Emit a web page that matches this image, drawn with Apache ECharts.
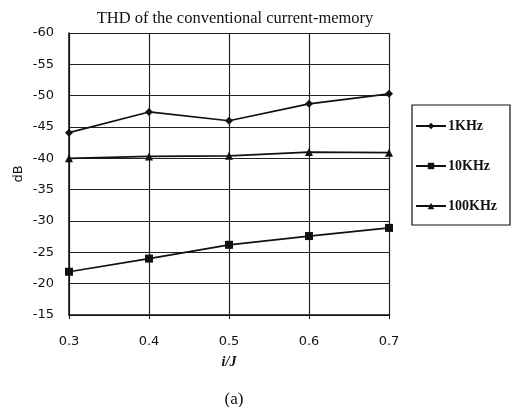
<!DOCTYPE html>
<html>
<head>
<meta charset="utf-8">
<script src="https://cdn.jsdelivr.net/npm/echarts@6/dist/echarts.min.js"></script>
<style>
  body { margin: 0; background: #fff; }
</style>
</head>
<body>
<div id="chart" style="width:516px;height:407px"></div>
<script>
// x categories (i/J)
let ratio = ["0.3", "0.4", "0.5", "0.6", "0.7"];
// THD in dB
let thd1k = [-44.1, -47.4, -46.0, -48.7, -50.3];
let thd10k = [-21.9, -24.0, -26.2, -27.6, -28.9];
let thd100k = [-40.0, -40.3, -40.4, -41.0, -40.9];

let serif = "'Liberation Serif', 'DejaVu Serif', serif";
let sans = "'DejaVu Sans', 'Liberation Sans', sans-serif";

function lineSeries(name, data, symbol, size) {
  return {
    name: name,
    type: "line",
    data: data,
    symbol: symbol,
    symbolSize: size,
    itemStyle: { color: "#111" },
    lineStyle: { color: "#111", width: 1.7 },
    emphasis: { disabled: true },
    animation: false
  };
}

let chart = echarts.init(document.getElementById("chart"));
chart.setOption({
  animation: false,
  backgroundColor: "#fff",
  title: [
    {
      text: "THD of the conventional current-memory",
      left: 230,
      top: 5,
      textAlign: "center",
      textStyle: { fontFamily: serif, fontSize: 16.5, fontWeight: "normal", color: "#111" }
    },
    {
      text: "(a)",
      left: 229,
      top: 386,
      textAlign: "center",
      textStyle: { fontFamily: serif, fontSize: 17, fontWeight: "normal", color: "#111" }
    }
  ],
  legend: {
    orient: "vertical",
    left: 412,
    top: 105,
    padding: [14, 13, 12, 3],
    itemGap: 26,
    itemWidth: 30,
    itemHeight: 8,
    borderColor: "#111",
    borderWidth: 1.2,
    textStyle: { fontFamily: serif, fontSize: 14, fontWeight: "bold", color: "#111", padding: [0, 0, 0, -3] },
    data: ["1KHz", "10KHz", "100KHz"]
  },
  grid: { left: 69, right: 127, top: 33, bottom: 92 },
  xAxis: {
    type: "category",
    data: ratio,
    boundaryGap: false,
    name: "i/J",
    nameLocation: "middle",
    nameGap: 40,
    nameMoveOverlap: false,
    nameTextStyle: { fontFamily: serif, fontSize: 14, fontStyle: "italic", fontWeight: "bold", color: "#111" },
    axisLine: { lineStyle: { color: "#111", width: 1.5 } },
    axisTick: { show: true, length: 4, lineStyle: { color: "#111" } },
    axisLabel: { fontFamily: sans, fontSize: 13, color: "#111", margin: 20 },
    splitLine: { show: true, lineStyle: { color: "#222", width: 1.2 } }
  },
  yAxis: {
    type: "value",
    inverse: true,
    min: -60,
    max: -15,
    interval: 5,
    name: "dB",
    nameLocation: "middle",
    nameGap: 44,
    nameMoveOverlap: false,
    nameRotate: 90,
    nameTextStyle: { fontFamily: sans, fontSize: 13, color: "#111" },
    axisLine: { show: true, lineStyle: { color: "#111", width: 1.5 } },
    axisTick: { show: false },
    axisLabel: { fontFamily: sans, fontSize: 13, color: "#111", margin: 15 },
    splitLine: { show: true, lineStyle: { color: "#222", width: 1.2 } }
  },
  series: [
    lineSeries("1KHz", thd1k, "diamond", 8),
    lineSeries("10KHz", thd10k, "rect", 8),
    lineSeries("100KHz", thd100k, "triangle", 8)
  ]
});
</script>
</body>
</html>
